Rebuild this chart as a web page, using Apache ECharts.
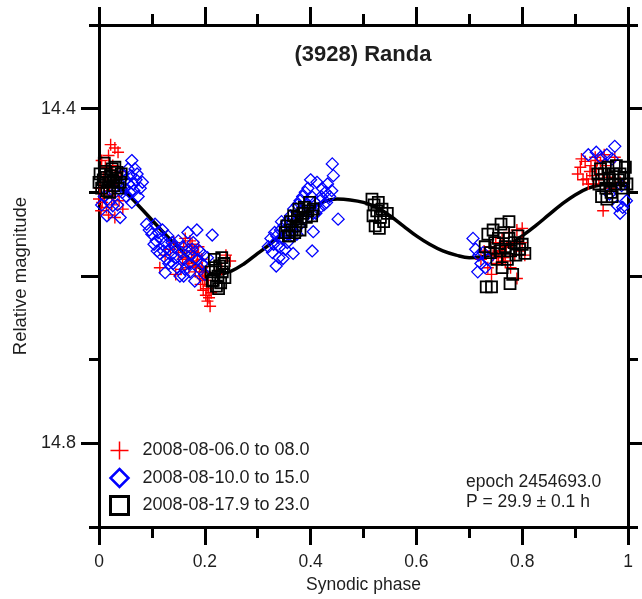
<!DOCTYPE html>
<html>
<head>
<meta charset="utf-8">
<title>(3928) Randa</title>
<script src="https://cdn.jsdelivr.net/npm/echarts@6/dist/echarts.min.js"></script>
<style>
  html, body { margin: 0; padding: 0; background: #fff; }
  #chart { width: 642px; height: 599px; }
</style>
</head>
<body>
<div id="chart"></div>
<script>
// Phased lightcurve of (3928) Randa, three observing runs plus Fourier fit.

const seriesNames = ['2008-08-06.0 to 08.0', '2008-08-10.0 to 15.0', '2008-08-17.9 to 23.0'];

// Run 1: 2008-08-06.0 to 08.0  [phase, relative magnitude]
const run1Points = [
  [0.022,14.443],[0.030,14.447],[0.036,14.452],[0.018,14.456],[0.005,14.462],[0.012,14.470],
  [0.026,14.468],[0.040,14.475],[0.008,14.482],[0.015,14.488],[0.032,14.485],[0.002,14.495],
  [0.010,14.503],[0.020,14.498],[0.028,14.505],[0.006,14.512],[0.014,14.518],[0.024,14.515],
  [0.038,14.510],[0.004,14.522],[0.018,14.527],[0.045,14.520],[0.030,14.530],[0.000,14.508],
  [0.115,14.590],[0.125,14.575],[0.135,14.568],[0.142,14.560],[0.150,14.572],[0.155,14.592],
  [0.160,14.565],[0.165,14.578],[0.170,14.590],[0.175,14.570],[0.178,14.582],[0.182,14.595],
  [0.186,14.575],[0.190,14.600],[0.192,14.610],[0.195,14.590],[0.197,14.617],[0.200,14.605],
  [0.202,14.623],[0.205,14.630],[0.207,14.612],[0.210,14.636],[0.212,14.620],[0.163,14.555],
  [0.172,14.558],[0.145,14.598],[0.240,14.575],[0.248,14.582],[0.232,14.592],[0.188,14.565],
  [0.168,14.585],[0.176,14.562],[0.184,14.588],[0.194,14.580],[0.199,14.595],[0.204,14.615],
  [0.158,14.580],[0.180,14.572],[0.196,14.603],[0.208,14.626],
  [0.722,14.580],[0.728,14.570],[0.735,14.590],[0.740,14.565],[0.745,14.575],[0.750,14.560],
  [0.752,14.585],[0.758,14.570],[0.762,14.555],[0.765,14.578],[0.770,14.565],[0.775,14.548],
  [0.778,14.590],[0.782,14.560],[0.786,14.575],[0.790,14.545],[0.795,14.570],[0.800,14.560],
  [0.805,14.575],[0.742,14.598],[0.790,14.603],[0.800,14.543],[0.755,14.578],[0.768,14.582],
  [0.905,14.478],[0.910,14.470],[0.915,14.485],[0.919,14.463],[0.922,14.484],[0.925,14.490],
  [0.930,14.468],[0.933,14.480],[0.938,14.458],[0.940,14.472],[0.945,14.485],[0.948,14.465],
  [0.952,14.478],[0.958,14.468],[0.962,14.482],[0.953,14.522],[0.965,14.495],[0.975,14.458],
  [0.985,14.488],[0.955,14.455],[0.912,14.460],[0.928,14.475],[0.935,14.490],[0.942,14.462]
];

// Run 2: 2008-08-10.0 to 15.0
const run2Points = [
  [0.010,14.505],[0.020,14.512],[0.030,14.500],[0.040,14.490],[0.045,14.478],[0.050,14.485],
  [0.055,14.472],[0.060,14.480],[0.065,14.490],[0.068,14.472],[0.074,14.505],[0.048,14.495],
  [0.058,14.500],[0.035,14.515],[0.026,14.516],[0.015,14.528],[0.062,14.462],[0.078,14.495],
  [0.082,14.488],[0.062,14.512],[0.040,14.530],[0.005,14.515],[0.052,14.505],[0.070,14.485],
  [0.044,14.500],[0.066,14.498],[0.056,14.490],[0.072,14.478],
  [0.090,14.538],[0.095,14.545],[0.100,14.550],[0.106,14.538],[0.108,14.558],[0.112,14.548],
  [0.115,14.573],[0.118,14.555],[0.122,14.570],[0.125,14.560],[0.128,14.580],[0.130,14.552],
  [0.133,14.568],[0.136,14.575],[0.140,14.585],[0.143,14.565],[0.146,14.578],[0.150,14.558],
  [0.153,14.600],[0.156,14.572],[0.160,14.580],[0.163,14.592],[0.166,14.570],[0.170,14.585],
  [0.174,14.575],[0.178,14.560],[0.181,14.606],[0.186,14.580],[0.190,14.570],[0.195,14.585],
  [0.200,14.598],[0.168,14.548],[0.185,14.545],[0.205,14.578],[0.125,14.596],[0.214,14.551],
  [0.104,14.562],[0.120,14.545],[0.138,14.560],[0.148,14.590],[0.158,14.565],[0.172,14.595],
  [0.176,14.568],[0.192,14.592],[0.198,14.575],[0.160,14.600],[0.132,14.585],[0.110,14.570],
  [0.320,14.565],[0.325,14.555],[0.328,14.572],[0.332,14.548],[0.336,14.552],[0.340,14.578],
  [0.343,14.545],[0.346,14.555],[0.350,14.540],[0.352,14.568],[0.355,14.535],[0.358,14.550],
  [0.362,14.528],[0.365,14.545],[0.368,14.520],[0.372,14.535],[0.375,14.515],[0.378,14.540],
  [0.382,14.525],[0.385,14.505],[0.388,14.530],[0.392,14.515],[0.395,14.495],[0.398,14.520],
  [0.402,14.505],[0.405,14.525],[0.408,14.512],[0.412,14.488],[0.415,14.520],[0.418,14.510],
  [0.422,14.495],[0.425,14.515],[0.428,14.500],[0.432,14.490],[0.441,14.466],[0.443,14.480],
  [0.440,14.498],[0.348,14.579],[0.367,14.573],[0.335,14.588],[0.403,14.570],[0.405,14.547],
  [0.452,14.532],[0.400,14.485],[0.330,14.562],[0.342,14.565],[0.356,14.560],[0.362,14.548],
  [0.374,14.550],[0.380,14.510],[0.390,14.500],[0.410,14.525],[0.420,14.505],[0.430,14.512],
  [0.436,14.505],[0.345,14.535],
  [0.707,14.555],[0.712,14.568],[0.716,14.595],[0.718,14.575],[0.722,14.585],[0.726,14.572],
  [0.730,14.590],[0.735,14.580],
  [0.925,14.455],[0.940,14.452],[0.948,14.458],[0.960,14.455],[0.975,14.445],[0.970,14.460],
  [0.980,14.516],[0.985,14.525],[0.990,14.518],[0.997,14.510],[0.965,14.502],[0.988,14.492]
];

// Run 3: 2008-08-17.9 to 23.0
const run3Points = [
  [0.002,14.478],[0.008,14.485],[0.012,14.475],[0.018,14.488],[0.022,14.480],[0.028,14.492],
  [0.032,14.483],[0.036,14.495],[0.040,14.488],[0.005,14.495],[0.015,14.498],[0.025,14.472],
  [0.010,14.465],[0.030,14.470],[0.020,14.500],[0.042,14.478],[0.000,14.488],[0.014,14.482],
  [0.034,14.476],[0.026,14.486],
  [0.212,14.595],[0.216,14.605],[0.220,14.590],[0.222,14.612],[0.225,14.600],[0.228,14.588],
  [0.230,14.608],[0.233,14.595],[0.236,14.585],[0.238,14.602],[0.218,14.580],[0.232,14.578],
  [0.226,14.615],[0.214,14.606],
  [0.352,14.548],[0.355,14.540],[0.358,14.552],[0.362,14.535],[0.365,14.545],[0.368,14.528],
  [0.372,14.540],[0.375,14.530],[0.378,14.520],[0.382,14.535],[0.385,14.525],[0.388,14.518],
  [0.392,14.530],[0.395,14.522],[0.398,14.512],[0.402,14.528],[0.405,14.520],[0.360,14.552],
  [0.370,14.548],[0.380,14.545],
  [0.516,14.508],[0.520,14.515],[0.525,14.522],[0.528,14.512],[0.532,14.530],[0.535,14.520],
  [0.538,14.535],[0.522,14.540],[0.530,14.543],[0.545,14.525],[0.518,14.528],
  [0.730,14.565],[0.735,14.550],[0.740,14.572],[0.745,14.545],[0.748,14.560],[0.752,14.580],
  [0.755,14.555],[0.758,14.570],[0.762,14.590],[0.765,14.548],[0.768,14.565],[0.772,14.580],
  [0.775,14.555],[0.778,14.570],[0.782,14.598],[0.785,14.560],[0.788,14.575],[0.792,14.552],
  [0.795,14.568],[0.800,14.562],[0.805,14.573],[0.732,14.613],[0.742,14.613],[0.777,14.609],
  [0.760,14.538],[0.775,14.535],
  [0.943,14.478],[0.945,14.490],[0.948,14.472],[0.950,14.485],[0.955,14.478],[0.958,14.495],
  [0.962,14.470],[0.965,14.485],[0.968,14.500],[0.972,14.478],[0.975,14.490],[0.978,14.468],
  [0.982,14.485],[0.985,14.478],[0.988,14.495],[0.992,14.482],[0.995,14.470],[0.998,14.490],
  [0.950,14.505],[0.960,14.508],[0.970,14.505]
];

// Fourier fit, sampled in phase
const fitPhase = [0.00,0.025,0.05,0.075,0.10,0.125,0.15,0.175,0.20,0.225,0.25,0.275,0.30,0.325,
  0.35,0.375,0.40,0.425,0.45,0.475,0.50,0.525,0.55,0.575,0.60,0.625,0.65,0.675,0.70,0.725,
  0.75,0.775,0.80,0.825,0.85,0.875,0.90,0.925,0.95,0.975,1.00];
const fitMag = [14.494,14.491,14.500,14.516,14.533,14.550,14.566,14.582,14.594,14.598,14.594,14.585,
  14.573,14.561,14.547,14.532,14.519,14.511,14.508,14.509,14.512,14.518,14.528,14.540,14.552,
  14.562,14.570,14.575,14.578,14.577,14.572,14.563,14.552,14.540,14.527,14.514,14.503,14.495,
  14.491,14.490,14.494];

// Axis ticks and labels
const xTickInterval = 0.2;
const yMajorTicks = [14.4, 14.6, 14.8];
const yMinorTicks = [14.3, 14.5, 14.7, 14.9];
const yLabelValues = [14.4, 14.8];
const yRange = [14.3, 14.9];

const titleText = '(3928) Randa';
const noteLines = ['epoch 2454693.0', 'P = 29.9 \u00b1 0.1 h'];

const FONT = '"Liberation Sans", Arial, Helvetica, sans-serif';
const INK = '#1e1e1e';

const PLUS = 'path://M5,0L5,10M0,5L10,5';
const DIAMOND = 'path://M5,0L10,5L5,10L0,5Z';
const SQUARE = 'path://M0,0L10,0L10,10L0,10Z';

const chart = echarts.init(document.getElementById('chart'), null, { renderer: 'canvas' });

function xAxisDef(position, showLabels) {
  return {
    type: 'value', position: position, min: 0, max: 1, interval: xTickInterval,
    axisLine: { show: true, onZero: false, lineStyle: { color: '#000', width: 3 } },
    axisTick: { show: true, length: 18, lineStyle: { color: '#000', width: 3 } },
    minorTick: { show: true, splitNumber: 2, length: 11, lineStyle: { color: '#000', width: 3 } },
    splitLine: { show: false }, minorSplitLine: { show: false },
    axisLabel: { show: showLabels, fontSize: 17.5, fontFamily: FONT, color: INK, margin: 26 },
    name: showLabels ? 'Synodic phase' : '', nameLocation: 'middle', nameGap: 46,
    nameTextStyle: { fontSize: 17.5, fontFamily: FONT, color: INK }
  };
}

function yAxisDef(position, ticks, tickLen, showLine, labels, name) {
  return {
    type: 'value', position: position, inverse: true, min: yRange[0], max: yRange[1], interval: 0.1,
    axisLine: { show: showLine, onZero: false, lineStyle: { color: '#000', width: 3 } },
    axisTick: { show: true, customValues: ticks, length: tickLen, lineStyle: { color: '#000', width: 3 } },
    splitLine: { show: false },
    axisLabel: labels ? {
      show: true, customValues: labels, fontSize: 18, fontFamily: FONT, color: INK, margin: 23,
      formatter: v => Number(v).toFixed(1)
    } : { show: false },
    name: name || '', nameLocation: 'middle', nameGap: 69,
    nameTextStyle: { fontSize: 18.5, fontFamily: FONT, color: INK }
  };
}

const option = {
  animation: false,
  backgroundColor: '#ffffff',
  title: {
    text: titleText, left: 363, top: 44, textAlign: 'center', padding: 0,
    textStyle: { fontSize: 22, fontWeight: 'bold', fontFamily: FONT, color: INK }
  },
  grid: { left: 99, right: 14, top: 25, bottom: 69, containLabel: false },
  xAxis: [xAxisDef('bottom', true), xAxisDef('top', false)],
  yAxis: [
    yAxisDef('left', yMajorTicks, 18, true, yLabelValues, 'Relative magnitude'),
    yAxisDef('left', yMinorTicks, 10, false, null, ''),
    yAxisDef('right', yMajorTicks, 18, true, null, ''),
    yAxisDef('right', yMinorTicks, 10, false, null, '')
  ],
  legend: {
    orient: 'vertical', left: 108, top: 439, padding: 0,
    itemWidth: 36, itemHeight: 18, itemGap: 4.5, selectedMode: false,
    symbolKeepAspect: true,
    textStyle: { fontSize: 18, fontFamily: FONT, color: INK },
    data: [
      { name: seriesNames[0], icon: PLUS, itemStyle: { color: 'none', borderColor: '#ff0000', borderWidth: 1.5 } },
      { name: seriesNames[1], icon: DIAMOND, itemStyle: { color: 'none', borderColor: '#0000ff', borderWidth: 2.5 } },
      { name: seriesNames[2], icon: SQUARE, itemStyle: { color: 'none', borderColor: '#000000', borderWidth: 3 } }
    ]
  },
  graphic: [{
    type: 'text', left: 466, top: 472, silent: true,
    style: { text: noteLines.join('\n'), font: '17.5px ' + FONT, fill: INK, lineHeight: 20 }
  }],
  series: [
    {
      type: 'line', name: 'fit', data: fitPhase.map((p, i) => [p, fitMag[i]]),
      smooth: 0.4, showSymbol: false, silent: true, z: 1,
      lineStyle: { color: '#000', width: 3.5 }
    },
    {
      type: 'scatter', name: seriesNames[0], data: run1Points, z: 2, silent: true,
      symbol: PLUS, symbolSize: 12,
      itemStyle: { color: 'none', borderColor: '#ff0000', borderWidth: 1.4, opacity: 1 }
    },
    {
      type: 'scatter', name: seriesNames[1], data: run2Points, z: 3, silent: true,
      symbol: DIAMOND, symbolSize: 12,
      itemStyle: { color: 'none', borderColor: '#0000ff', borderWidth: 1.3, opacity: 1 }
    },
    {
      type: 'scatter', name: seriesNames[2], data: run3Points, z: 4, silent: true,
      symbol: SQUARE, symbolSize: 11,
      itemStyle: { color: 'none', borderColor: '#000000', borderWidth: 1.8, opacity: 1 }
    }
  ]
};

chart.setOption(option);
</script>
</body>
</html>
